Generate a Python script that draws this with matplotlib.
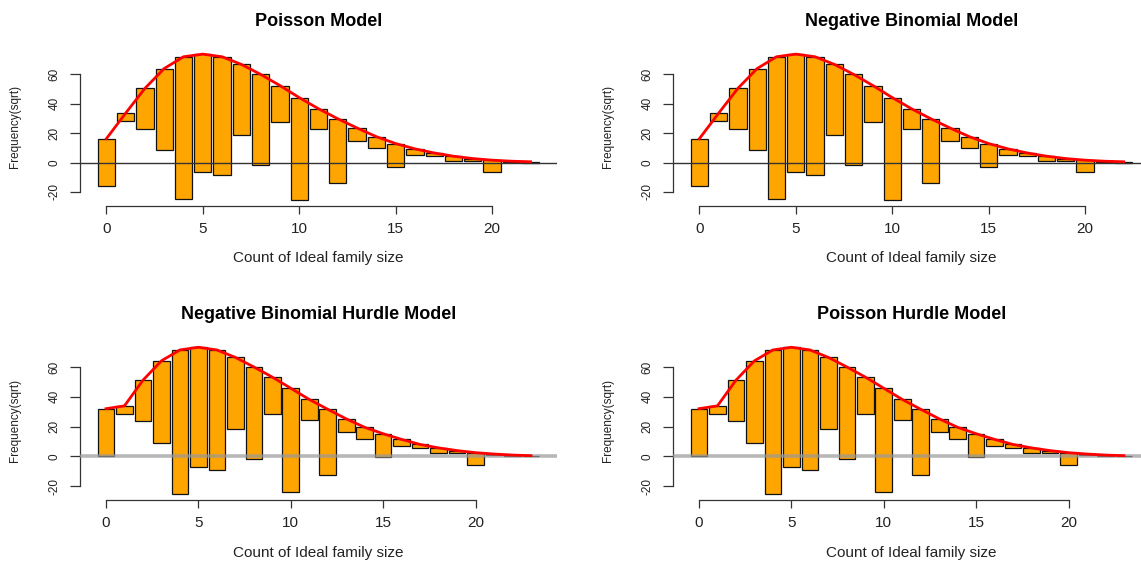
import matplotlib
matplotlib.use('Agg')
import matplotlib.pyplot as plt
import numpy as np

plt.rcParams['font.family'] = ['Liberation Sans', 'DejaVu Sans']

# ---- data (square-root scale) ----
counts = list(range(24))
observed_sqrt = [32.0, 5.3, 27.5, 55.2, 96.5, 80.2, 80.3, 48.1, 61.6, 24.6, 69.5, 13.5,
                 43.9, 8.6, 8.0, 15.8, 4.2, 2.4, 3.3, 1.5, 8.2, 0.8, 0.7, 0.5]
poisson_expected = [16.2, 33.6, 50.5, 64.0, 72.0, 73.8, 72.0, 66.8, 60.0, 52.4, 44.2, 36.6,
                    29.8, 23.5, 17.6, 12.9, 9.3, 6.5, 4.3, 2.7, 1.6, 0.9, 0.5]
negbin_expected = [16.2, 33.6, 50.5, 64.0, 72.0, 73.8, 72.0, 66.8, 60.0, 52.4, 44.2, 36.6,
                   29.8, 23.5, 17.6, 12.9, 9.3, 6.5, 4.3, 2.7, 1.6, 0.9, 0.5]
hurdle_nb_expected = [32.0, 33.9, 51.1, 64.1, 71.4, 73.2, 71.4, 66.4, 60.0, 53.2, 45.7, 38.2,
                      31.6, 25.2, 19.5, 15.2, 11.4, 8.0, 5.7, 3.9, 2.5, 1.6, 0.9, 0.5]
hurdle_pois_expected = [32.0, 33.9, 51.1, 64.1, 71.4, 73.2, 71.4, 66.4, 60.0, 53.2, 45.7, 38.2,
                        31.6, 25.2, 19.5, 15.2, 11.4, 8.0, 5.7, 3.9, 2.5, 1.6, 0.9, 0.5]
titles = ["Poisson Model", "Negative Binomial Model",
          "Negative Binomial Hurdle Model", "Poisson Hurdle Model"]
x_ticks = [0, 5, 10, 15, 20]
y_ticks = [-20, 0, 20, 40, 60]
xlabel = "Count of Ideal family size"
ylabel = "Frequency(sqrt)"

W, H = 1141, 561
fig = plt.figure(figsize=(W / 100, H / 100), dpi=100)

# (left_px, top_px, bottom_px, zero-line style)
layout = [
    (80, 48.3, 205.5, 'top'),
    (673, 48.3, 205.5, 'top'),
    (80, 341.4, 499.7, 'bottom'),
    (673, 341.4, 499.7, 'bottom'),
]
expecteds = [poisson_expected, negbin_expected, hurdle_nb_expected, hurdle_pois_expected]
panel_w = 477

for title, expected, (lpx, tpx, bpx, zstyle) in zip(titles, expecteds, layout):
    ax = fig.add_axes([lpx / W, 1 - bpx / H, panel_w / W, (bpx - tpx) / H])
    n = len(expected)
    x = np.array(counts[:n])
    obs = np.array(observed_sqrt[:n])
    exp = np.array(expected)
    bottom = exp - obs
    ax.bar(x, obs, bottom=bottom, width=0.9, color='#FFA500', edgecolor='#111111',
           linewidth=0.9, zorder=2)
    if zstyle == 'top':
        ax.axhline(0, color='#333333', lw=1.0, zorder=3)
    else:
        ax.axhline(0, color='#999999', lw=2.6, alpha=0.7, zorder=3)
    ax.plot(x, exp, color='red', lw=2, zorder=4)

    xlo, xhi = x.min() - 0.45, x.max() + 0.45
    r = xhi - xlo
    ax.set_xlim(xlo - 0.04 * r, xhi + 0.04 * r)
    ylo, yhi = bottom.min(), exp.max()
    r = yhi - ylo
    ax.set_ylim(ylo - 0.04 * r, yhi + 0.04 * r)

    for s in ['top', 'right']:
        ax.spines[s].set_visible(False)
    for s in ['left', 'bottom']:
        ax.spines[s].set_color('#333333')
        ax.spines[s].set_linewidth(0.9)
    ax.spines['bottom'].set_bounds(x_ticks[0], x_ticks[-1])
    ax.spines['left'].set_bounds(y_ticks[0], y_ticks[-1])

    ax.set_xticks(x_ticks)
    ax.set_xticklabels([str(t) for t in x_ticks])
    ax.set_yticks(y_ticks)
    ax.set_yticklabels([str(t) for t in y_ticks], rotation=90, va='center')
    ax.tick_params(axis='x', length=6, width=0.9, color='#333333', pad=6,
                   labelsize=11, labelcolor='#222222')
    ax.tick_params(axis='y', length=7.2, width=0.9, color='#333333', pad=7,
                   labelsize=8.5, labelcolor='#222222')

    ax.set_xlabel(xlabel, fontsize=11, color='#222222', va='center')
    ax.xaxis.set_label_coords(0.5, -(258 - 205.5) / 157.2)
    ax.set_ylabel(ylabel, fontsize=8.5, color='#222222', va='center')
    ax.yaxis.set_label_coords(-(80 - 15) / panel_w, 0.5)

    ax.set_title(title, fontsize=13, fontweight='bold', pad=16)
    ax.patch.set_visible(False)

fig.savefig('out.png', dpi=100)
